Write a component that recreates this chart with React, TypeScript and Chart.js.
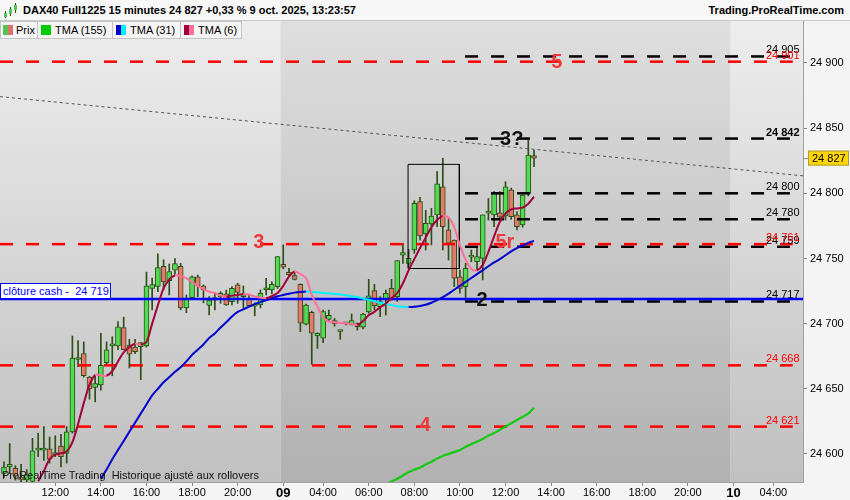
import { useEffect, useRef } from "react";
import { Chart, registerables } from "chart.js";

Chart.register(...registerables);

const FONT = '"Liberation Sans", Arial, sans-serif';

// DAX40 Full1225, 15 min bars, 8 oct 09:45 -> 9 oct 13:15 (index = bar number)
const opens = [
  24585, 24590, 24589, 24582, 24580, 24579, 24603, 24603, 24604, 24599.5,
  24606, 24600.5, 24617, 24672.5, 24677, 24659, 24651, 24653, 24670, 24683,
  24683, 24697, 24683.5, 24682, 24682.3, 24683, 24727, 24728.5, 24744, 24733,
  24741, 24744, 24712, 24720, 24736, 24729, 24714, 24718, 24720.7, 24722.8,
  24716.9, 24729.7, 24720.7, 24719.5, 24713.5, 24714.3, 24726, 24725.8, 24728.4, 24745.6,
  24739.4, 24736.8, 24730.2, 24699.5, 24708.7, 24690.5, 24688.8, 24703.3, 24702.3, 24694,
  24699.8, 24699, 24700, 24697.2, 24709, 24725.3, 24713, 24718.2, 24727, 24720.7,
  24752.5, 24746.3, 24756.5, 24793.6, 24768.8, 24776.5, 24783.4, 24805, 24771.9, 24764.2,
  24736, 24728.4, 24751, 24747.5, 24750, 24784.7, 24783.4, 24785.1, 24782.6, 24802.6,
  24783.4, 24775.7, 24800, 24829,
];
const highs = [
  24594, 24608, 24591, 24592, 24588, 24612, 24616, 24621, 24613, 24614,
  24615, 24621, 24690.5, 24687, 24686, 24659.5, 24661, 24692.5, 24686, 24690,
  24701.5, 24705, 24688, 24688, 24685.5, 24739.5, 24735, 24753.5, 24749, 24745.8,
  24750, 24746.3, 24722, 24736.6, 24737.3, 24729.7, 24720.7, 24723.3, 24724.5, 24725.8,
  24728.4, 24731, 24729, 24722, 24716, 24725.8, 24734.8, 24732.2, 24751.4, 24760.4,
  24742.5, 24739.4, 24730.5, 24715, 24709.5, 24693, 24710.5, 24710.5, 24704, 24694.5,
  24700.5, 24707.4, 24700.5, 24708, 24734, 24730.2, 24720.7, 24725.8, 24734, 24748.3,
  24761.7, 24757, 24794.3, 24797, 24787, 24788.5, 24816.6, 24826.9, 24780.8, 24764.2,
  24741, 24746.3, 24756.5, 24759, 24783.4, 24796, 24801.3, 24801.3, 24808.9, 24804,
  24786, 24798.7, 24841, 24833,
];
const lows = [
  24582, 24585, 24580, 24578, 24577, 24578, 24598, 24595, 24593, 24598,
  24590, 24593, 24616, 24667, 24659, 24642, 24640, 24649, 24668, 24660,
  24680, 24680, 24666, 24677, 24657, 24682, 24710.5, 24724.5, 24725.8, 24722,
  24737.3, 24710.5, 24708.4, 24719.5, 24720.7, 24716, 24706.6, 24710.5, 24715.6, 24714,
  24714.3, 24715.6, 24712, 24712.5, 24706, 24712, 24722, 24722.8, 24727, 24742,
  24736, 24733.5, 24693.8, 24699, 24668.8, 24681, 24685.4, 24702, 24698, 24688,
  24699, 24699, 24695, 24696, 24708, 24710.5, 24705.3, 24706.6, 24718, 24717,
  24746.3, 24743, 24754, 24764, 24756.5, 24760.4, 24774.4, 24756.5, 24748.8, 24728.4,
  24723.3, 24718, 24747.5, 24741, 24733.5, 24779.5, 24774.4, 24779.5, 24779.5, 24780,
  24771.9, 24774, 24798, 24820.4,
];
const closes = [
  24590, 24592, 24583, 24580, 24584, 24602.5, 24604, 24604, 24596, 24600.5,
  24598, 24617, 24673.5, 24674, 24660, 24650, 24654, 24668, 24680, 24684,
  24697.5, 24680, 24676.5, 24678.5, 24685.4, 24729, 24730, 24743, 24732, 24740,
  24746, 24712, 24718.7, 24736, 24729, 24726, 24718, 24720, 24723.3, 24714.3,
  24727.1, 24724, 24721, 24713.8, 24714, 24723.3, 24727, 24730.2, 24751.4, 24743.3,
  24737.3, 24734, 24700.3, 24714.3, 24692.6, 24692.6, 24709.2, 24706.3, 24699.8, 24694,
  24700, 24702.3, 24697.7, 24707.4, 24721.4, 24713.8, 24717, 24723.3, 24719.5, 24748.3,
  24754.5, 24750.2, 24792.3, 24767.3, 24777, 24782.6, 24807.2, 24774.4, 24761.7, 24734.8,
  24727.1, 24742.5, 24752, 24751.4, 24783.4, 24786.3, 24800, 24781.6, 24805, 24782,
  24774.4, 24798.7, 24829.4, 24827,
];

// moving averages, each starting at the bar where it enters the window
const tma6Start = 6;
const tma6 = [
  24579, 24587, 24596, 24599.5, 24600.5, 24602, 24609, 24623, 24639, 24653,
  24660.5, 24660.3, 24660, 24663.5, 24671, 24678, 24682, 24684.5, 24684, 24686,
  24700, 24714, 24727, 24734, 24737, 24736.5, 24734.8, 24732, 24729, 24726.5,
  24724.5, 24723.5, 24721.5, 24720.7, 24721.5, 24722, 24722.8, 24722.3, 24720.8, 24719.8,
  24719.5, 24721, 24723.5, 24729, 24736, 24740, 24738, 24735, 24722, 24713,
  24705, 24701.5, 24701, 24700.5, 24700.3, 24699.8, 24699, 24702, 24706.5, 24709,
  24712.5, 24715.5, 24719.5, 24723.5, 24731, 24741, 24749.5, 24758, 24766, 24774,
  24779.5, 24782.7, 24781.5, 24774, 24760, 24749, 24742, 24741, 24745, 24755,
  24767, 24778, 24784.5, 24787.7, 24788.4, 24789, 24792, 24797.5,
];
const tma31Start = 17;
const tma31 = [
  24581, 24588, 24596, 24603, 24610, 24617, 24624, 24631, 24638, 24645,
  24650, 24655, 24659, 24663, 24666.5, 24671, 24676, 24680, 24684, 24689,
  24692.5, 24697, 24701, 24705.5, 24709, 24711, 24713, 24715, 24716.5, 24718,
  24719.5, 24721, 24722, 24723, 24723.8, 24724.3, 24724.6, 24724.3, 24724, 24723.6,
  24723.2, 24722.8, 24722.3, 24721.7, 24721, 24720.2, 24719.3, 24718.3, 24717.2, 24716,
  24715, 24714.2, 24713.4, 24713, 24712.8, 24713, 24713.6, 24714.5, 24716, 24718,
  24720.3, 24723, 24726, 24729, 24732, 24735, 24738, 24741, 24744, 24747,
  24749.5, 24752.5, 24755.5, 24758, 24760, 24762, 24763.5,
];
const tma155Start = 66;
const tma155 = [
  24574.5, 24577, 24579, 24581, 24583.5, 24586, 24588, 24589.5, 24592, 24594,
  24596.5, 24598.5, 24600, 24601.5, 24603, 24605.5, 24607.5, 24609.5, 24611.5, 24614,
  24616, 24618.5, 24621, 24623.5, 24626, 24628.5, 24631, 24635.5,
];

const xTickIdx = [9, 17, 25, 33, 41, 49, 56, 64, 72, 80, 88, 96, 104, 112, 120, 128, 135];
const xTickLabels = [
  "12:00", "14:00", "16:00", "18:00", "20:00", "09", "04:00", "06:00", "08:00",
  "10:00", "12:00", "14:00", "16:00", "18:00", "20:00", "10", "04:00",
];
const dayLabels = ["09", "10"];
const dayBreaks = [48.5, 127.5];
const yTicks = [24600, 24650, 24700, 24750, 24800, 24850, 24900];

const redLevels = [24901, 24761, 24668, 24621];
const blackLevels = [24905, 24842, 24800, 24780, 24759, 24717];
const boldLevels = [24842];
const cashClose = 24719;
const lastPrice = 24827;
const trendLine = [24874.2, 24813.4];
const zoneBox = { x0: 70.9, x1: 79.9, lo: 24742.3, hi: 24822.2 };
const waveLabels = [
  { t: "3", x: 44.7, y: 24762, red: true },
  { t: "5", x: 97, y: 24900, red: true },
  { t: "4", x: 73.9, y: 24622, red: true },
  { t: "5r", x: 87.9, y: 24762, red: true },
  { t: "3?", x: 89.1, y: 24841, red: false },
  { t: "2", x: 83.9, y: 24718, red: false },
];

const X_MIN = -0.7;
const X_MAX = 140.2;
const BLACK_FROM = 80.9;
const BLACK_TO = 137.9;
const RED_TO = 138.4;
const LABEL_X = 139.6;

const RED = "#ff0000";
const WAVE_RED = "#ee3a3a";
const WICK = "#2b4f14";

const fmt = (v: number) => String(v).replace(/\B(?=(\d{3})+(?!\d))/g, " ");

const overlay = {
  id: "overlay",
  beforeDraw(chart: any) {
    const { ctx, chartArea: a, scales } = chart;
    const xs = [a.left, ...dayBreaks.map((d) => scales.x.getPixelForValue(d)), a.right];
    const shades = [
      ["#ededed", "#c0c0c0"],
      ["#dedede", "#b1b1b1"],
      ["#ededed", "#c0c0c0"],
    ];
    ctx.save();
    for (let i = 0; i < 3; i++) {
      const g = ctx.createLinearGradient(0, a.top, 0, a.bottom);
      g.addColorStop(0, shades[i][0]);
      g.addColorStop(1, shades[i][1]);
      ctx.fillStyle = g;
      ctx.fillRect(xs[i], a.top, xs[i + 1] - xs[i], a.bottom - a.top);
    }
    ctx.restore();
  },
  afterDatasetsDraw(chart: any) {
    const { ctx, scales } = chart;
    const x = scales.x;
    const y = scales.y;
    ctx.save();
    ctx.textAlign = "right";
    ctx.textBaseline = "alphabetic";
    const lx = x.getPixelForValue(LABEL_X);
    blackLevels.forEach((v) => {
      ctx.font = (boldLevels.includes(v) ? "bold " : "") + "11px " + FONT;
      ctx.fillStyle = "#000";
      ctx.fillText(fmt(v), lx, y.getPixelForValue(v) - 3);
    });
    redLevels.forEach((v) => {
      ctx.font = "11px " + FONT;
      ctx.fillStyle = RED;
      ctx.fillText(fmt(v), lx, y.getPixelForValue(v) - 3);
    });
    ctx.textAlign = "center";
    ctx.textBaseline = "middle";
    ctx.font = "bold 20px " + FONT;
    waveLabels.forEach((w) => {
      ctx.fillStyle = w.red ? WAVE_RED : "#111";
      ctx.fillText(w.t, x.getPixelForValue(w.x), y.getPixelForValue(w.y));
    });
    ctx.restore();
  },
  afterDraw(chart: any) {
    const { ctx, chartArea: a, scales } = chart;
    const py = scales.y.getPixelForValue(lastPrice);
    ctx.save();
    ctx.fillStyle = "#ffd700";
    ctx.strokeStyle = "#a89a50";
    ctx.lineWidth = 1;
    ctx.fillRect(a.right + 5, py - 7.5, 41, 15);
    ctx.strokeRect(a.right + 5.5, py - 7, 40, 14);
    ctx.fillStyle = "#000";
    ctx.font = "11px " + FONT;
    ctx.textAlign = "left";
    ctx.textBaseline = "middle";
    ctx.fillText(fmt(lastPrice), a.right + 9, py + 0.5);
    ctx.strokeStyle = "#888";
    ctx.beginPath();
    ctx.moveTo(a.right, py + 0.5);
    ctx.lineTo(a.right + 5, py + 0.5);
    ctx.stroke();
    ctx.restore();
  },
};

function levelLine(v: number, from: number, to: number, color: string, dash: number[]) {
  return {
    type: "line" as const,
    data: [
      { x: from, y: v },
      { x: to, y: v },
    ],
    borderColor: color,
    borderWidth: 2.5,
    borderDash: dash,
    pointRadius: 0,
    order: 1,
  };
}

function tmaLine(values: number[], start: number, up: string, down: string) {
  return {
    type: "line" as const,
    data: values.map((v, i) => ({ x: start + i, y: v })),
    borderColor: up,
    borderWidth: 2,
    pointRadius: 0,
    tension: 0.3,
    order: 0,
    segment: {
      borderColor: (c: any) => (c.p1.parsed.y >= c.p0.parsed.y ? up : down),
    },
  };
}

function CandleChart() {
  const canvasRef = useRef<HTMLCanvasElement | null>(null);
  useEffect(() => {
    document.body.style.margin = "0";
    if (!canvasRef.current) return;
    Chart.defaults.font.family = FONT;
    const datasets: any[] = [
      tmaLine(tma6, tma6Start, "#a0003c", "#ff6f9c"),
      tmaLine(tma31, tma31Start, "#0000d0", "#00f0ff"),
      tmaLine(tma155, tma155Start, "#00cc00", "#00cc00"),
      levelLine(cashClose, X_MIN, X_MAX, "#0000ff", []),
      ...redLevels.map((v) => levelLine(v, X_MIN, RED_TO, RED, [13, 13])),
      ...blackLevels.map((v) => levelLine(v, BLACK_FROM, BLACK_TO, "#000", [13, 13])),
      {
        type: "line",
        data: [
          { x: X_MIN, y: trendLine[0] },
          { x: X_MAX, y: trendLine[1] },
        ],
        borderColor: "#555",
        borderWidth: 1,
        borderDash: [3, 3],
        pointRadius: 0,
        order: 1,
      },
      {
        type: "line",
        data: [
          { x: zoneBox.x0, y: zoneBox.lo },
          { x: zoneBox.x0, y: zoneBox.hi },
          { x: zoneBox.x1, y: zoneBox.hi },
          { x: zoneBox.x1, y: zoneBox.lo },
          { x: zoneBox.x0, y: zoneBox.lo },
        ],
        borderColor: "#000",
        borderWidth: 1,
        pointRadius: 0,
        order: 1,
      },
      {
        type: "bar",
        data: opens.map((o, i) => ({ x: i, y: [o, closes[i]] })),
        backgroundColor: opens.map((o, i) => (closes[i] >= o ? "#50dc50" : "#e8786a")),
        borderColor: WICK,
        borderWidth: 1,
        borderSkipped: false,
        barThickness: 5,
        minBarLength: 2,
        grouped: false,
        order: 2,
      },
      {
        type: "bar",
        data: highs.map((h, i) => ({ x: i, y: [lows[i], h] })),
        backgroundColor: WICK,
        borderWidth: 0,
        barThickness: 1,
        grouped: false,
        order: 3,
      },
    ];
    const chart = new Chart(canvasRef.current, {
      type: "bar",
      data: { datasets },
      plugins: [overlay],
      options: {
        animation: false,
        responsive: false,
        events: [],
        layout: { padding: { top: 21, left: 0, right: 0, bottom: 0 } },
        plugins: { legend: { display: false }, tooltip: { enabled: false } },
        scales: {
          x: {
            type: "linear",
            min: X_MIN,
            max: X_MAX,
            offset: false,
            afterBuildTicks: (s: any) => {
              s.ticks = xTickIdx.map((v) => ({ value: v }));
            },
            afterFit: (s: any) => {
              s.height = 18;
            },
            grid: { drawOnChartArea: false, drawTicks: true, tickLength: 4, color: "#888", offset: false },
            border: { display: true, color: "#a0a0a0" },
            ticks: {
              autoSkip: false,
              maxRotation: 0,
              padding: 0,
              color: "#000",
              callback: (v: any) => xTickLabels[xTickIdx.indexOf(Number(v))] ?? "",
              font: (c: any) => {
                const lab = xTickLabels[xTickIdx.indexOf(c.tick?.value)];
                return dayLabels.includes(lab)
                  ? { size: 13, weight: "bold" }
                  : { size: 11 };
              },
            },
          },
          y: {
            type: "linear",
            position: "right",
            min: 24578.5,
            max: 24932.2,
            afterBuildTicks: (s: any) => {
              s.ticks = yTicks.map((v) => ({ value: v }));
            },
            afterFit: (s: any) => {
              s.width = 47;
            },
            grid: { drawOnChartArea: false, drawTicks: true, tickLength: 4, color: "#888" },
            border: { display: true, color: "#a0a0a0" },
            ticks: {
              padding: 3,
              color: "#000",
              font: { size: 11 },
              callback: (v: any) => fmt(Number(v)),
            },
          },
        },
      },
    });
    return () => chart.destroy();
  }, []);
  return <canvas ref={canvasRef} width={850} height={500} style={{ position: "absolute", left: 0, top: 0 }} />;
}

const legendBox = (left: number, width: number): React.CSSProperties => ({
  position: "absolute",
  top: 21,
  left,
  width,
  height: 18,
  boxSizing: "border-box",
  border: "1px solid #c4c4c4",
  background: "#f4f4f4",
  fontSize: 11,
  lineHeight: "16px",
  color: "#000",
});

const swatch = (left: number, width: number, color: string): React.CSSProperties => ({
  position: "absolute",
  top: 3,
  left,
  width,
  height: 10,
  background: color,
});

export default function App() {
  return (
    <div
      style={{
        position: "relative",
        width: 850,
        height: 500,
        overflow: "hidden",
        background: "#f4f4f4",
        fontFamily: FONT,
      }}
    >
      <CandleChart />
      <div
        style={{
          position: "absolute",
          left: 0,
          top: 0,
          width: 850,
          height: 21,
          boxSizing: "border-box",
          background: "#f7f7f7",
          borderBottom: "1px solid #c9c9c9",
          fontSize: 11,
          fontWeight: "bold",
          lineHeight: "20px",
        }}
      >
        <div style={{ position: "absolute", left: 5, top: 11, width: 1, height: 7, background: WICK }} />
        <div style={{ position: "absolute", left: 4, top: 13, width: 3, height: 4, background: "#50c850" }} />
        <div style={{ position: "absolute", left: 10, top: 7, width: 1, height: 9, background: WICK }} />
        <div style={{ position: "absolute", left: 9, top: 9, width: 3, height: 5, background: "#50c850" }} />
        <div style={{ position: "absolute", left: 15, top: 3, width: 1, height: 10, background: WICK }} />
        <div style={{ position: "absolute", left: 14, top: 5, width: 3, height: 5, background: "#50c850" }} />
        <span style={{ position: "absolute", left: 23, top: 0 }}>
          DAX40 Full1225 15 minutes 24 827 +0,33 % 9 oct. 2025, 13:23:57
        </span>
        <span style={{ position: "absolute", right: 6, top: 0 }}>Trading.ProRealTime.com</span>
      </div>
      <div style={legendBox(0, 38)}>
        <div style={swatch(2, 5, "#50c850")} />
        <div style={swatch(7, 5, "#e07070")} />
        <span style={{ position: "absolute", left: 15 }}>Prix</span>
      </div>
      <div style={legendBox(37, 76)}>
        <div style={swatch(3, 10, "#00cc00")} />
        <span style={{ position: "absolute", left: 17 }}>TMA (155)</span>
      </div>
      <div style={legendBox(112, 69)}>
        <div style={swatch(3, 5, "#0000d0")} />
        <div style={swatch(8, 5, "#00f0ff")} />
        <span style={{ position: "absolute", left: 17 }}>TMA (31)</span>
      </div>
      <div style={legendBox(180, 62)}>
        <div style={swatch(3, 5, "#a0003c")} />
        <div style={swatch(8, 5, "#ff6f9c")} />
        <span style={{ position: "absolute", left: 17 }}>TMA (6)</span>
      </div>
      <div
        style={{
          position: "absolute",
          left: 0,
          top: 283,
          width: 111,
          height: 16,
          boxSizing: "border-box",
          background: "#fff",
          border: "1px solid #0000ff",
          color: "#0000ff",
          fontSize: 11,
          lineHeight: "14px",
          paddingLeft: 2,
          whiteSpace: "pre",
        }}
      >
        {"clôture cash -  24 719"}
      </div>
      <div
        style={{
          position: "absolute",
          left: 2,
          top: 469,
          fontSize: 11,
          lineHeight: "13px",
          color: "#111",
          whiteSpace: "pre",
        }}
      >
        {"ProRealTime Trading  Historique ajusté aux rollovers"}
      </div>
    </div>
  );
}
